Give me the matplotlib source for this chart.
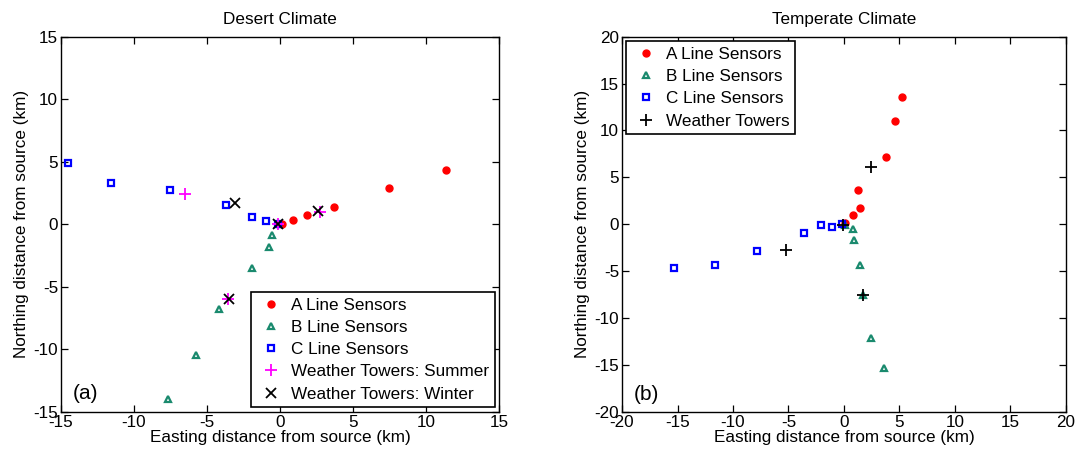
import matplotlib
matplotlib.use("Agg")
import matplotlib.pyplot as plt

plt.rcParams['font.family'] = ['Liberation Sans', 'DejaVu Sans']
plt.rcParams['axes.unicode_minus'] = False

# Desert climate
desA_x = [0.16, 0.91, 1.85, 3.7, 7.45, 11.4]
desA_y = [0.0, 0.35, 0.72, 1.39, 2.88, 4.37]
desB_x = [-0.1, -0.55, -0.77, -1.91, -4.17, -5.76, -7.63]
desB_y = [0.0, -0.83, -1.81, -3.47, -6.77, -10.45, -13.97]
desC_x = [-14.49, -11.57, -7.54, -3.69, -1.94, -0.98, -0.14]
desC_y = [4.93, 3.31, 2.72, 1.57, 0.56, 0.27, 0.0]
sum_x = [-6.47, 2.73, -3.53, -0.1]
sum_y = [2.4, 1.01, -5.95, 0.0]
win_x = [-3.1, 2.64, -3.49, -0.14]
win_y = [1.68, 1.04, -5.95, 0.0]

# Temperate climate
temA_x = [0.1, 0.78, 1.44, 1.23, 3.78, 4.62, 5.2]
temA_y = [0.1, 0.96, 1.71, 3.63, 7.19, 11.0, 13.6]
temB_x = [0.1, 0.78, 0.93, 1.41, 1.71, 2.43, 3.63]
temB_y = [-0.1, -0.53, -1.71, -4.38, -7.5, -12.1, -15.3]
temC_x = [-0.18, -1.05, -2.04, -3.57, -7.87, -11.6, -15.3]
temC_y = [0.07, -0.25, -0.07, -0.89, -2.85, -4.34, -4.63]
tow_x = [-0.06, -5.25, 2.4, 1.74]
tow_y = [-0.1, -2.78, 6.12, -7.5]

RED = '#ff0000'
GREEN = '#1a8a6e'
BLUE = '#0000ff'
MAG = '#ff00ff'
FS = 12.3

fig = plt.figure(figsize=(10.81, 4.57), dpi=100)
ax1 = fig.add_axes([0.0562, 0.099, 0.4055, 0.8206])
ax2 = fig.add_axes([0.5754, 0.099, 0.4107, 0.8206])

def style(ax, lim, ticks):
    ax.set_xlim(-lim, lim)
    ax.set_ylim(-lim, lim)
    ax.set_xticks(ticks)
    ax.set_yticks(ticks)
    ax.tick_params(direction='in', top=True, right=True, labelsize=FS, length=5, width=0.9, pad=2)
    for s in ax.spines.values():
        s.set_linewidth(1.0)
    ax.set_xlabel('Easting distance from source (km)', fontsize=FS, labelpad=0)
    ax.set_ylabel('Northing distance from source (km)', fontsize=FS, labelpad=3)

LEG = dict(fontsize=FS, fancybox=False, edgecolor='black', borderaxespad=0.25,
           handletextpad=0.35, labelspacing=0.42, borderpad=0.35, handlelength=1.6,
           framealpha=1)

ms = 5
ax1.plot(desA_x, desA_y, 'o', color=RED, ms=ms, mec=RED, label='A Line Sensors')
ax1.plot(desB_x, desB_y, '^', mfc='none', mec=GREEN, ms=ms, mew=1.6, label='B Line Sensors')
ax1.plot(desC_x, desC_y, 's', mfc='none', mec=BLUE, ms=ms, mew=1.6, label='C Line Sensors')
ax1.plot(sum_x, sum_y, '+', color=MAG, ms=9, mew=1.3, label='Weather Towers: Summer')
ax1.plot(win_x, win_y, 'x', color='black', ms=6.5, mew=1.3, label='Weather Towers: Winter')
style(ax1, 15, range(-15, 16, 5))
ax1.set_title('Desert Climate', fontsize=FS, pad=9)
ax1.text(-14.2, -14.0, '(a)', fontsize=15)
leg1 = ax1.legend(loc='lower right', **LEG)
leg1.get_frame().set_linewidth(1.2)

ax2.plot(temA_x, temA_y, 'o', color=RED, ms=ms, mec=RED, label='A Line Sensors')
ax2.plot(temB_x, temB_y, '^', mfc='none', mec=GREEN, ms=ms, mew=1.6, label='B Line Sensors')
ax2.plot(temC_x, temC_y, 's', mfc='none', mec=BLUE, ms=ms, mew=1.6, label='C Line Sensors')
ax2.plot(tow_x, tow_y, '+', color='black', ms=9, mew=1.3, label='Weather Towers')
style(ax2, 20, range(-20, 21, 5))
ax2.set_title('Temperate Climate', fontsize=FS, pad=9)
ax2.text(-18.9, -18.7, '(b)', fontsize=15)
leg2 = ax2.legend(loc='upper left', **LEG)
leg2.get_frame().set_linewidth(1.2)

fig.savefig('out.png', dpi=100)
